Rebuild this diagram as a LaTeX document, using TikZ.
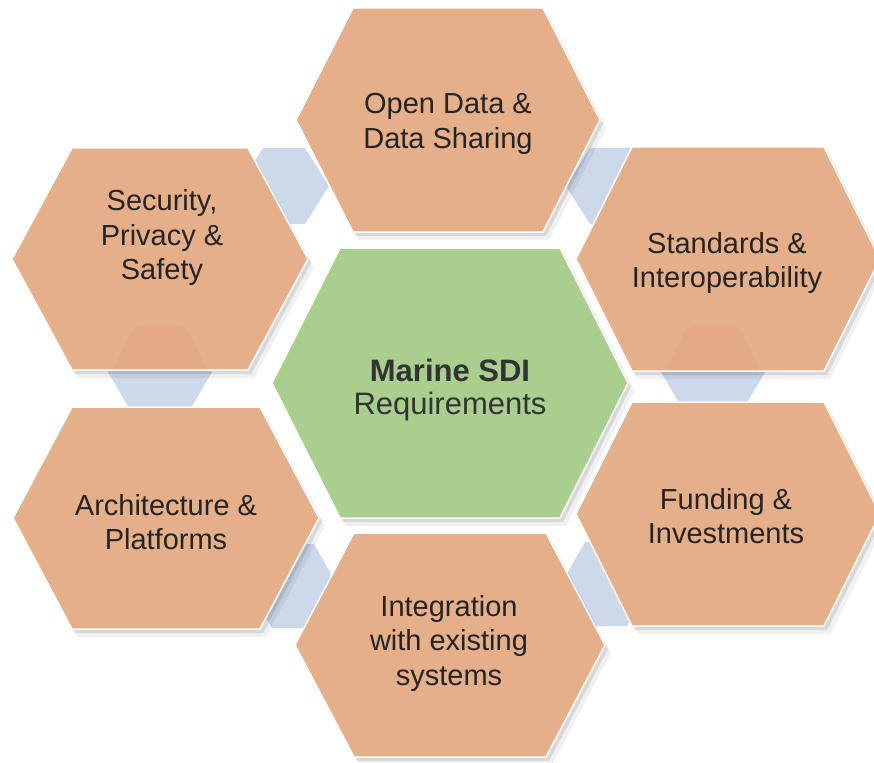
\documentclass[tikz,border=0pt]{standalone}
\usepackage{fontspec}
\setmainfont{Liberation Sans}
\definecolor{hexor}{RGB}{229,175,137}
\definecolor{hexgr}{RGB}{168,207,142}
\definecolor{hexbl}{RGB}{203,217,235}
\definecolor{ghostor}{RGB}{226,171,133}
\definecolor{txt}{RGB}{36,36,36}
% hexagon: [options]{cx}{cy}{half width}{half top edge}{half height}
\newcommand\hx[6][]{\path[#1] ({#2-#4},{#3}) -- ({#2-#5},{#3-#6}) -- ({#2+#5},{#3-#6}) -- ({#2+#4},{#3}) -- ({#2+#5},{#3+#6}) -- ({#2-#5},{#3+#6}) -- cycle;}
\tikzset{
  ohex/.style={fill=hexor, draw=white, line width=1.5pt, line join=miter},
  ghex/.style={fill=hexgr, draw=white, line width=1.5pt, line join=miter},
  bhex/.style={fill=hexbl},
  ghost/.style={fill=ghostor, rounded corners=8pt},
  shadA/.style={fill=black, opacity=.10, xshift=3pt, yshift=-4pt},
  shadB/.style={fill=black, opacity=.06, xshift=6pt, yshift=-8pt},
  lbl/.style={align=center, inner sep=0pt, text=txt, font=\fontsize{29}{34.5}\selectfont},
  clbl/.style={align=center, inner sep=0pt, text=black!80, font=\fontsize{31}{33}\selectfont}
}
\begin{document}
\begin{tikzpicture}[x=1pt,y=-1pt]
\useasboundingbox (0,0) rectangle (874,762);
% connector hexagons (behind)
\hx[bhex]{284}{186}{45}{21}{38}
\hx[bhex]{611}{186}{45}{21}{38}
\hx[bhex]{160}{372}{52}{24}{48}
\hx[bhex]{713}{372}{52}{24}{48}
\hx[bhex]{293}{586}{45}{21}{42}
\hx[bhex]{606}{584}{45}{21}{42}
% shadows
\foreach \s in {shadB,shadA}{
  \hx[\s]{448}{120}{152}{95}{112}
  \hx[\s]{160}{259}{148}{88}{111}
  \hx[\s]{728}{259}{152}{96}{112}
  \hx[\s]{166}{518}{153}{94}{111}
  \hx[\s]{728}{514}{152}{96}{112}
  \hx[\s]{450}{645}{155}{96}{112}
  \hx[\s]{450}{383}{178}{110}{135}
}
% main hexagons
\hx[ohex]{448}{120}{152}{95}{112}
\hx[ohex]{160}{259}{148}{88}{111}
\hx[ohex]{728}{259}{152}{96}{112}
\hx[ohex]{166}{518}{153}{94}{111}
\hx[ohex]{728}{514}{152}{96}{112}
\hx[ohex]{450}{645}{155}{96}{112}
\hx[ghex]{450}{383}{178}{110}{135}
% faint ghosts of the connector hexagons
\begin{scope}
  \hx[clip]{160}{259}{147}{87}{110}
  \hx[ghost]{160}{372}{48}{26}{46}
\end{scope}
\begin{scope}
  \hx[clip]{728}{259}{151}{95}{111}
  \hx[ghost]{713}{372}{48}{26}{46}
\end{scope}
% labels
\node[lbl] (open) at (448,124) {Open Data \&\\Data Sharing};
\node[lbl] (sec) at (162,238) {Security,\\Privacy \&\\Safety};
\node[lbl] (std) at (727,263) {Standards \&\\Interoperability};
\node[lbl] (arch) at (166,522) {Architecture \&\\Platforms};
\node[lbl] (fund) at (726,516) {Funding \&\\Investments};
\node[lbl] (integ) at (449,643) {Integration\\with existing\\systems};
\node[clbl] (core) at (450,390) {\textbf{Marine SDI}\\Requirements};
\end{tikzpicture}
\end{document}
